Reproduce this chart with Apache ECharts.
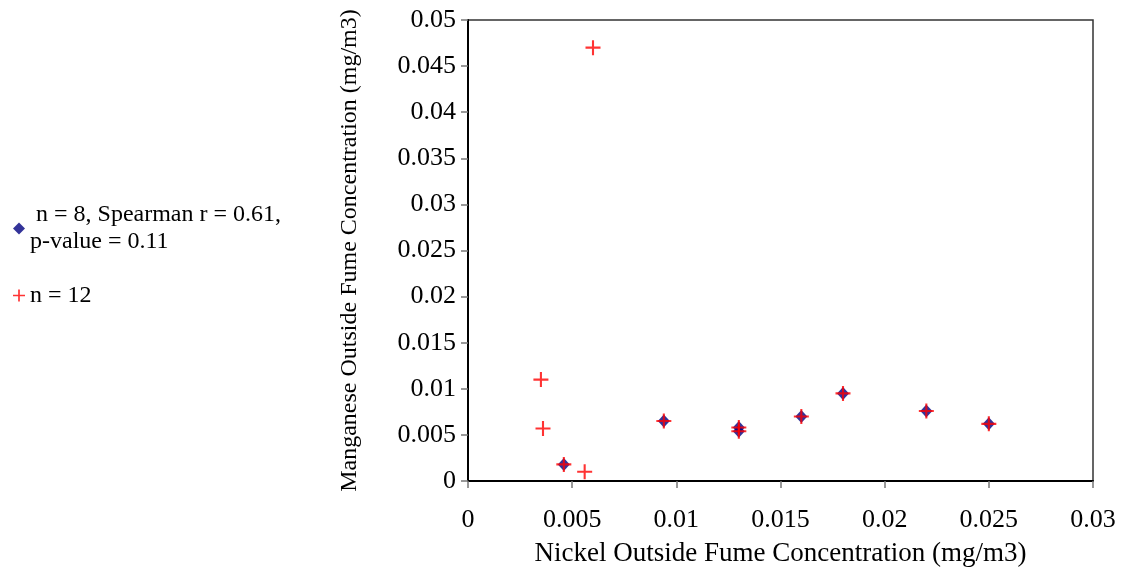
<!DOCTYPE html>
<html>
<head>
<meta charset="utf-8">
<script src="https://cdn.jsdelivr.net/npm/echarts@6/dist/echarts.min.js"></script>
<style>
html,body{margin:0;padding:0;background:#fff;}
#chart{width:1121px;height:572px;}
</style>
</head>
<body>
<div id="chart"></div>
<script>
// Series 1: n = 8 (blue diamonds)
const blueNickel = [0.0046, 0.0094, 0.013, 0.013, 0.016, 0.018, 0.022, 0.025];
const blueManganese = [0.0018, 0.0065, 0.0058, 0.0054, 0.0070, 0.0095, 0.0076, 0.0062];
// Series 2: n = 12 (red crosses)
const redNickel = [0.0046, 0.0094, 0.013, 0.013, 0.016, 0.018, 0.022, 0.025, 0.006, 0.0035, 0.0036, 0.0056];
const redManganese = [0.0018, 0.0065, 0.0058, 0.0054, 0.0070, 0.0095, 0.0076, 0.0062, 0.047, 0.011, 0.0057, 0.0010];
const seriesNames = [' n = 8, Spearman r = 0.61,\np-value = 0.11', 'n = 12'];
const xAxisName = 'Nickel Outside Fume Concentration (mg/m3)';
const yAxisName = 'Manganese Outside Fume Concentration (mg/m3)';

const FONT = '"Liberation Serif", "Times New Roman", serif';
const crossPath = 'path://M43,0H57V43H100V57H57V100H43V57H0V43H43Z';

const pairs = (xs, ys) => xs.map((x, i) => [x, ys[i]]);

const chart = echarts.init(document.getElementById('chart'), null, {renderer: 'canvas'});
chart.setOption({
  animation: false,
  backgroundColor: '#fff',
  grid: {left: 468, top: 20, right: 28, bottom: 91, show: true, borderColor: '#333', borderWidth: 1.5,
         containLabel: false, outerBoundsMode: 'none'},
  legend: {
    orient: 'vertical',
    left: 8,
    top: 183,
    itemGap: 13,
    itemWidth: 12,
    itemHeight: 12,
    textStyle: {fontFamily: FONT, fontSize: 24, color: '#000', lineHeight: 27},
    data: [
      {name: seriesNames[0], textStyle: {padding: [27, 0, 0, 0]}},
      {name: seriesNames[1]}
    ]
  },
  xAxis: {
    type: 'value', min: 0, max: 0.03, interval: 0.005,
    name: xAxisName, nameLocation: 'middle', nameGap: 59,
    nameTextStyle: {fontFamily: FONT, fontSize: 27, color: '#000'},
    axisLine: {show: true, lineStyle: {color: '#000', width: 2}},
    axisTick: {show: true, length: 7, lineStyle: {color: '#777', width: 1.5}},
    axisLabel: {fontFamily: FONT, fontSize: 26, color: '#000', margin: 26, formatter: v => String(+v.toFixed(3))},
    splitLine: {show: false}
  },
  yAxis: {
    type: 'value', min: 0, max: 0.05, interval: 0.005,
    name: yAxisName, nameLocation: 'middle', nameGap: 106, nameRotate: 90,
    nameTextStyle: {fontFamily: FONT, fontSize: 24, color: '#000'},
    axisLine: {show: true, lineStyle: {color: '#000', width: 2}},
    axisTick: {show: true, length: 7, lineStyle: {color: '#777', width: 1.5}},
    axisLabel: {fontFamily: FONT, fontSize: 26, color: '#000', margin: 12, formatter: v => String(+v.toFixed(3))},
    splitLine: {show: false}
  },
  series: [
    {
      name: seriesNames[0], type: 'scatter', symbol: 'diamond', symbolSize: [12, 13],
      itemStyle: {color: '#000080'},
      data: pairs(blueNickel, blueManganese), z: 2
    },
    {
      name: seriesNames[1], type: 'scatter', symbol: crossPath, symbolSize: [15, 15],
      itemStyle: {color: '#ff0000'},
      data: pairs(redNickel, redManganese), z: 3
    }
  ]
});
</script>
</body>
</html>
